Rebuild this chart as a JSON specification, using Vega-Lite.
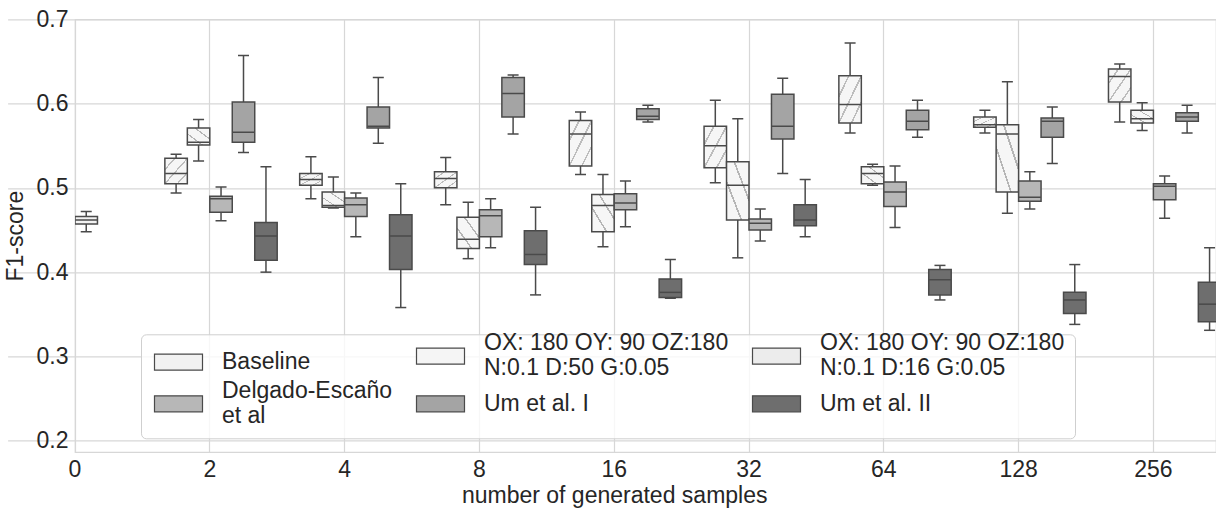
{
  "$schema": "https://vega.github.io/schema/vega-lite/v6.json",
  "width": 1141,
  "height": 432.7,
  "autosize": "none",
  "padding": {"left": 75, "top": 19.3, "right": 0, "bottom": 56},
  "background": "white",
  "config": {
    "view": {"stroke": "#d7d7d7", "strokeWidth": 1.2},
    "font": "Liberation Sans",
    "axis": {
      "labelFont": "Liberation Sans", "titleFont": "Liberation Sans",
      "labelFontSize": 23, "titleFontSize": 23,
      "labelColor": "#262626", "titleColor": "#262626",
      "titleFontWeight": "normal", "gridColor": "#d7d7d7", "gridWidth": 1.2,
      "ticks": false, "domain": false
    },
    "legend": {
      "title": null, "orient": "none", "legendX": 66, "legendY": 315, "columns": 3, "direction": "horizontal",
      "symbolType": "M-1,-1H5V1H-1Z", "symbolSize": 256, "symbolStrokeColor": "#4a4a4a", "symbolStrokeWidth": 1.2,
      "labelFont": "Liberation Sans", "labelFontSize": 23, "labelColor": "#262626",
      "labelLimit": 0, "labelOffset": 48,
      "padding": 10, "rowPadding": -1, "columnPadding": 20,
      "strokeColor": "#cfcfcf", "fillColor": "rgba(255,255,255,0.8)", "cornerRadius": 5
    }
  },
  "data": {"values": [
    {"n": "0", "method": "Baseline", "lower": 0.448, "q1": 0.457, "median": 0.462, "q3": 0.466, "upper": 0.472},

    {"n": "2", "method": "OX: 180 OY: 90 OZ:180\n\u00a0N:0.1 D:16 G:0.05", "lower": 0.494, "q1": 0.505, "median": 0.517, "q3": 0.535, "upper": 0.540},
    {"n": "2", "method": "OX: 180 OY: 90 OZ:180\n\u00a0N:0.1 D:50 G:0.05", "lower": 0.532, "q1": 0.551, "median": 0.554, "q3": 0.571, "upper": 0.581},
    {"n": "2", "method": "Delgado-Escaño\n\u00a0et al", "lower": 0.461, "q1": 0.471, "median": 0.487, "q3": 0.490, "upper": 0.501},
    {"n": "2", "method": "Um et al. I", "lower": 0.542, "q1": 0.554, "median": 0.566, "q3": 0.602, "upper": 0.657},
    {"n": "2", "method": "Um et al. II", "lower": 0.400, "q1": 0.414, "median": 0.443, "q3": 0.459, "upper": 0.525},

    {"n": "4", "method": "OX: 180 OY: 90 OZ:180\n\u00a0N:0.1 D:16 G:0.05", "lower": 0.487, "q1": 0.503, "median": 0.510, "q3": 0.517, "upper": 0.537},
    {"n": "4", "method": "OX: 180 OY: 90 OZ:180\n\u00a0N:0.1 D:50 G:0.05", "lower": 0.476, "q1": 0.477, "median": 0.479, "q3": 0.495, "upper": 0.513},
    {"n": "4", "method": "Delgado-Escaño\n\u00a0et al", "lower": 0.442, "q1": 0.466, "median": 0.480, "q3": 0.488, "upper": 0.494},
    {"n": "4", "method": "Um et al. I", "lower": 0.553, "q1": 0.571, "median": 0.573, "q3": 0.596, "upper": 0.631},
    {"n": "4", "method": "Um et al. II", "lower": 0.358, "q1": 0.403, "median": 0.443, "q3": 0.468, "upper": 0.505},

    {"n": "8", "method": "OX: 180 OY: 90 OZ:180\n\u00a0N:0.1 D:16 G:0.05", "lower": 0.480, "q1": 0.500, "median": 0.511, "q3": 0.519, "upper": 0.536},
    {"n": "8", "method": "OX: 180 OY: 90 OZ:180\n\u00a0N:0.1 D:50 G:0.05", "lower": 0.416, "q1": 0.428, "median": 0.439, "q3": 0.465, "upper": 0.483},
    {"n": "8", "method": "Delgado-Escaño\n\u00a0et al", "lower": 0.429, "q1": 0.442, "median": 0.467, "q3": 0.474, "upper": 0.487},
    {"n": "8", "method": "Um et al. I", "lower": 0.564, "q1": 0.584, "median": 0.612, "q3": 0.631, "upper": 0.634},
    {"n": "8", "method": "Um et al. II", "lower": 0.373, "q1": 0.409, "median": 0.421, "q3": 0.449, "upper": 0.477},

    {"n": "16", "method": "OX: 180 OY: 90 OZ:180\n\u00a0N:0.1 D:16 G:0.05", "lower": 0.516, "q1": 0.526, "median": 0.564, "q3": 0.580, "upper": 0.590},
    {"n": "16", "method": "OX: 180 OY: 90 OZ:180\n\u00a0N:0.1 D:50 G:0.05", "lower": 0.430, "q1": 0.448, "median": 0.479, "q3": 0.492, "upper": 0.516},
    {"n": "16", "method": "Delgado-Escaño\n\u00a0et al", "lower": 0.454, "q1": 0.474, "median": 0.482, "q3": 0.493, "upper": 0.508},
    {"n": "16", "method": "Um et al. I", "lower": 0.578, "q1": 0.581, "median": 0.585, "q3": 0.594, "upper": 0.598},
    {"n": "16", "method": "Um et al. II", "lower": 0.369, "q1": 0.370, "median": 0.376, "q3": 0.392, "upper": 0.415},

    {"n": "32", "method": "OX: 180 OY: 90 OZ:180\n\u00a0N:0.1 D:16 G:0.05", "lower": 0.506, "q1": 0.524, "median": 0.550, "q3": 0.573, "upper": 0.604},
    {"n": "32", "method": "OX: 180 OY: 90 OZ:180\n\u00a0N:0.1 D:50 G:0.05", "lower": 0.417, "q1": 0.462, "median": 0.503, "q3": 0.531, "upper": 0.582},
    {"n": "32", "method": "Delgado-Escaño\n\u00a0et al", "lower": 0.437, "q1": 0.450, "median": 0.458, "q3": 0.463, "upper": 0.475},
    {"n": "32", "method": "Um et al. I", "lower": 0.517, "q1": 0.558, "median": 0.573, "q3": 0.611, "upper": 0.630},
    {"n": "32", "method": "Um et al. II", "lower": 0.442, "q1": 0.455, "median": 0.462, "q3": 0.480, "upper": 0.510},

    {"n": "64", "method": "OX: 180 OY: 90 OZ:180\n\u00a0N:0.1 D:16 G:0.05", "lower": 0.565, "q1": 0.577, "median": 0.599, "q3": 0.633, "upper": 0.672},
    {"n": "64", "method": "OX: 180 OY: 90 OZ:180\n\u00a0N:0.1 D:50 G:0.05", "lower": 0.503, "q1": 0.505, "median": 0.517, "q3": 0.525, "upper": 0.528},
    {"n": "64", "method": "Delgado-Escaño\n\u00a0et al", "lower": 0.453, "q1": 0.478, "median": 0.495, "q3": 0.507, "upper": 0.526},
    {"n": "64", "method": "Um et al. I", "lower": 0.560, "q1": 0.569, "median": 0.579, "q3": 0.592, "upper": 0.604},
    {"n": "64", "method": "Um et al. II", "lower": 0.367, "q1": 0.373, "median": 0.391, "q3": 0.403, "upper": 0.408},

    {"n": "128", "method": "OX: 180 OY: 90 OZ:180\n\u00a0N:0.1 D:16 G:0.05", "lower": 0.565, "q1": 0.572, "median": 0.575, "q3": 0.584, "upper": 0.592},
    {"n": "128", "method": "OX: 180 OY: 90 OZ:180\n\u00a0N:0.1 D:50 G:0.05", "lower": 0.470, "q1": 0.495, "median": 0.564, "q3": 0.575, "upper": 0.626},
    {"n": "128", "method": "Delgado-Escaño\n\u00a0et al", "lower": 0.475, "q1": 0.484, "median": 0.489, "q3": 0.508, "upper": 0.519},
    {"n": "128", "method": "Um et al. I", "lower": 0.529, "q1": 0.560, "median": 0.579, "q3": 0.583, "upper": 0.596},
    {"n": "128", "method": "Um et al. II", "lower": 0.338, "q1": 0.351, "median": 0.367, "q3": 0.376, "upper": 0.409},

    {"n": "256", "method": "OX: 180 OY: 90 OZ:180\n\u00a0N:0.1 D:16 G:0.05", "lower": 0.578, "q1": 0.602, "median": 0.632, "q3": 0.641, "upper": 0.647},
    {"n": "256", "method": "OX: 180 OY: 90 OZ:180\n\u00a0N:0.1 D:50 G:0.05", "lower": 0.568, "q1": 0.577, "median": 0.582, "q3": 0.592, "upper": 0.601},
    {"n": "256", "method": "Delgado-Escaño\n\u00a0et al", "lower": 0.464, "q1": 0.486, "median": 0.502, "q3": 0.505, "upper": 0.514},
    {"n": "256", "method": "Um et al. I", "lower": 0.565, "q1": 0.579, "median": 0.584, "q3": 0.589, "upper": 0.598},
    {"n": "256", "method": "Um et al. II", "lower": 0.331, "q1": 0.341, "median": 0.362, "q3": 0.388, "upper": 0.429}
  ]},
  "layer": [
    {
      "transform": [{"filter": "datum.method != 'Baseline'"}],
      "encoding": {
        "x": {"field": "n", "type": "ordinal", "title": "number of generated samples",
              "scale": {"domain": ["0","2","4","8","16","32","64","128","256"], "range": [-67.4, 1145.8], "paddingInner": 0, "paddingOuter": 0},
              "axis": {"labelAngle": 0, "labelPadding": 6, "titlePadding": 3, "grid": true, "bandPosition": 0.5}},
        "xOffset": {"field": "method", "type": "nominal",
              "scale": {"domain": ["", "OX: 180 OY: 90 OZ:180\n\u00a0N:0.1 D:16 G:0.05", "OX: 180 OY: 90 OZ:180\n\u00a0N:0.1 D:50 G:0.05", "Delgado-Escaño\n\u00a0et al", "Um et al. I", "Um et al. II"], "paddingInner": 0, "paddingOuter": 0}}
      },
      "layer": [
        {"mark": {"type": "rule", "color": "#4a4a4a", "strokeWidth": 1.5, "opacity": 1, "clip": true},
         "encoding": {"y": {"field": "lower", "type": "quantitative", "title": "F1-score", "scale": {"domain": [0.1866, 0.7], "nice": false, "zero": false}, "axis": {"values": [0.2,0.3,0.4,0.5,0.6,0.7], "format": ".1f", "grid": true, "labelPadding": 7, "titlePadding": 9}},
                      "y2": {"field": "upper"}}},
        {"mark": {"type": "bar", "stroke": "#4a4a4a", "strokeWidth": 1.5, "opacity": 1, "fillOpacity": 1, "width": {"band": 1}, "clip": true},
         "encoding": {"y": {"field": "q1", "type": "quantitative", "title": "F1-score", "scale": {"domain": [0.1866, 0.7], "nice": false, "zero": false}, "axis": {"values": [0.2,0.3,0.4,0.5,0.6,0.7], "format": ".1f", "grid": true, "labelPadding": 7, "titlePadding": 9}},
                      "y2": {"field": "q3"},
                      "fill": {"field": "method", "type": "nominal",
                        "condition": [
                          {"test": "indexof(datum.method, 'D:50') >= 0",
                           "value": {"gradient": "linear", "x1": 0, "y1": 1, "x2": 1, "y2": 0, "stops": [
                              {"offset": 0, "color": "#f6f6f6"}, {"offset": 0.31, "color": "#f6f6f6"}, {"offset": 0.31, "color": "#b5b5b5"}, {"offset": 0.35, "color": "#b5b5b5"}, {"offset": 0.35, "color": "#f6f6f6"},
                              {"offset": 0.65, "color": "#f6f6f6"}, {"offset": 0.65, "color": "#b5b5b5"}, {"offset": 0.69, "color": "#b5b5b5"}, {"offset": 0.69, "color": "#f6f6f6"}, {"offset": 1, "color": "#f6f6f6"}]}},
                          {"test": "indexof(datum.method, 'D:16') >= 0",
                           "value": {"gradient": "linear", "x1": 0, "y1": 0, "x2": 1, "y2": 1, "stops": [
                              {"offset": 0, "color": "#f6f6f6"}, {"offset": 0.2, "color": "#f6f6f6"}, {"offset": 0.2, "color": "#bdbdbd"}, {"offset": 0.24, "color": "#bdbdbd"}, {"offset": 0.24, "color": "#f6f6f6"},
                              {"offset": 0.48, "color": "#f6f6f6"}, {"offset": 0.48, "color": "#bdbdbd"}, {"offset": 0.52, "color": "#bdbdbd"}, {"offset": 0.52, "color": "#f6f6f6"},
                              {"offset": 0.76, "color": "#f6f6f6"}, {"offset": 0.76, "color": "#bdbdbd"}, {"offset": 0.8, "color": "#bdbdbd"}, {"offset": 0.8, "color": "#f6f6f6"}, {"offset": 1, "color": "#f6f6f6"}]}}
                        ],
                        "scale": {"domain": ["Baseline", "OX: 180 OY: 90 OZ:180\n\u00a0N:0.1 D:50 G:0.05", "OX: 180 OY: 90 OZ:180\n\u00a0N:0.1 D:16 G:0.05", "Delgado-Escaño\n\u00a0et al", "Um et al. I", "Um et al. II"],
                                  "range": ["#f2f2f2", "#f5f5f5", "#ececec", "#b7b7b7", "#a4a4a4", "#6e6e6e"]},
                        "legend": {"labelExpr": "split(datum.label, '\\n')",
                                   "labelBaseline": {"expr": "indexof(datum.label, '\\n') >= 0 ? 'line-bottom' : 'middle'"}}}}},
        {"mark": {"type": "tick", "orient": "horizontal", "color": "#4a4a4a", "size": 22, "thickness": 1.5, "opacity": 1, "clip": true},
         "encoding": {"y": {"field": "median", "type": "quantitative", "title": "F1-score", "scale": {"domain": [0.1866, 0.7], "nice": false, "zero": false}, "axis": {"values": [0.2,0.3,0.4,0.5,0.6,0.7], "format": ".1f", "grid": true, "labelPadding": 7, "titlePadding": 9}}}},
        {"mark": {"type": "tick", "orient": "horizontal", "color": "#4a4a4a", "size": 11, "thickness": 1.5, "opacity": 1, "clip": true},
         "encoding": {"y": {"field": "upper", "type": "quantitative", "title": "F1-score", "scale": {"domain": [0.1866, 0.7], "nice": false, "zero": false}, "axis": {"values": [0.2,0.3,0.4,0.5,0.6,0.7], "format": ".1f", "grid": true, "labelPadding": 7, "titlePadding": 9}}}},
        {"mark": {"type": "tick", "orient": "horizontal", "color": "#4a4a4a", "size": 11, "thickness": 1.5, "opacity": 1, "clip": true},
         "encoding": {"y": {"field": "lower", "type": "quantitative", "title": "F1-score", "scale": {"domain": [0.1866, 0.7], "nice": false, "zero": false}, "axis": {"values": [0.2,0.3,0.4,0.5,0.6,0.7], "format": ".1f", "grid": true, "labelPadding": 7, "titlePadding": 9}}}}
      ]
    },
    {
      "transform": [{"filter": "datum.method == 'Baseline'"}],
      "encoding": {
        "x": {"field": "n", "type": "ordinal", "title": "number of generated samples",
              "scale": {"domain": ["0","2","4","8","16","32","64","128","256"], "range": [-67.4, 1145.8], "paddingInner": 0, "paddingOuter": 0},
              "axis": {"labelAngle": 0, "labelPadding": 6, "titlePadding": 3, "grid": true, "bandPosition": 0.5}},
        "xOffset": {"field": "method", "type": "nominal",
              "scale": {"domain": ["a", "b", "c", "Baseline", "d", "e"], "paddingInner": 0, "paddingOuter": 0}}
      },
      "layer": [
        {"mark": {"type": "rule", "color": "#4a4a4a", "strokeWidth": 1.5, "opacity": 1, "clip": true},
         "encoding": {"y": {"field": "lower", "type": "quantitative", "title": "F1-score", "scale": {"domain": [0.1866, 0.7], "nice": false, "zero": false}, "axis": {"values": [0.2,0.3,0.4,0.5,0.6,0.7], "format": ".1f", "grid": true, "labelPadding": 7, "titlePadding": 9}},
                      "y2": {"field": "upper"}}},
        {"mark": {"type": "bar", "stroke": "#4a4a4a", "strokeWidth": 1.5, "opacity": 1, "fillOpacity": 1, "width": {"band": 1}, "clip": true},
         "encoding": {"y": {"field": "q1", "type": "quantitative", "title": "F1-score", "scale": {"domain": [0.1866, 0.7], "nice": false, "zero": false}, "axis": {"values": [0.2,0.3,0.4,0.5,0.6,0.7], "format": ".1f", "grid": true, "labelPadding": 7, "titlePadding": 9}},
                      "y2": {"field": "q3"},
                      "fill": {"field": "method", "type": "nominal", "legend": null}}},
        {"mark": {"type": "tick", "orient": "horizontal", "color": "#4a4a4a", "size": 22, "thickness": 1.5, "opacity": 1, "clip": true},
         "encoding": {"y": {"field": "median", "type": "quantitative", "title": "F1-score", "scale": {"domain": [0.1866, 0.7], "nice": false, "zero": false}, "axis": {"values": [0.2,0.3,0.4,0.5,0.6,0.7], "format": ".1f", "grid": true, "labelPadding": 7, "titlePadding": 9}}}},
        {"mark": {"type": "tick", "orient": "horizontal", "color": "#4a4a4a", "size": 11, "thickness": 1.5, "opacity": 1, "clip": true},
         "encoding": {"y": {"field": "upper", "type": "quantitative", "title": "F1-score", "scale": {"domain": [0.1866, 0.7], "nice": false, "zero": false}, "axis": {"values": [0.2,0.3,0.4,0.5,0.6,0.7], "format": ".1f", "grid": true, "labelPadding": 7, "titlePadding": 9}}}},
        {"mark": {"type": "tick", "orient": "horizontal", "color": "#4a4a4a", "size": 11, "thickness": 1.5, "opacity": 1, "clip": true},
         "encoding": {"y": {"field": "lower", "type": "quantitative", "title": "F1-score", "scale": {"domain": [0.1866, 0.7], "nice": false, "zero": false}, "axis": {"values": [0.2,0.3,0.4,0.5,0.6,0.7], "format": ".1f", "grid": true, "labelPadding": 7, "titlePadding": 9}}}}
      ]
    }
  ],
  "resolve": {"scale": {"xOffset": "independent"}}
}
